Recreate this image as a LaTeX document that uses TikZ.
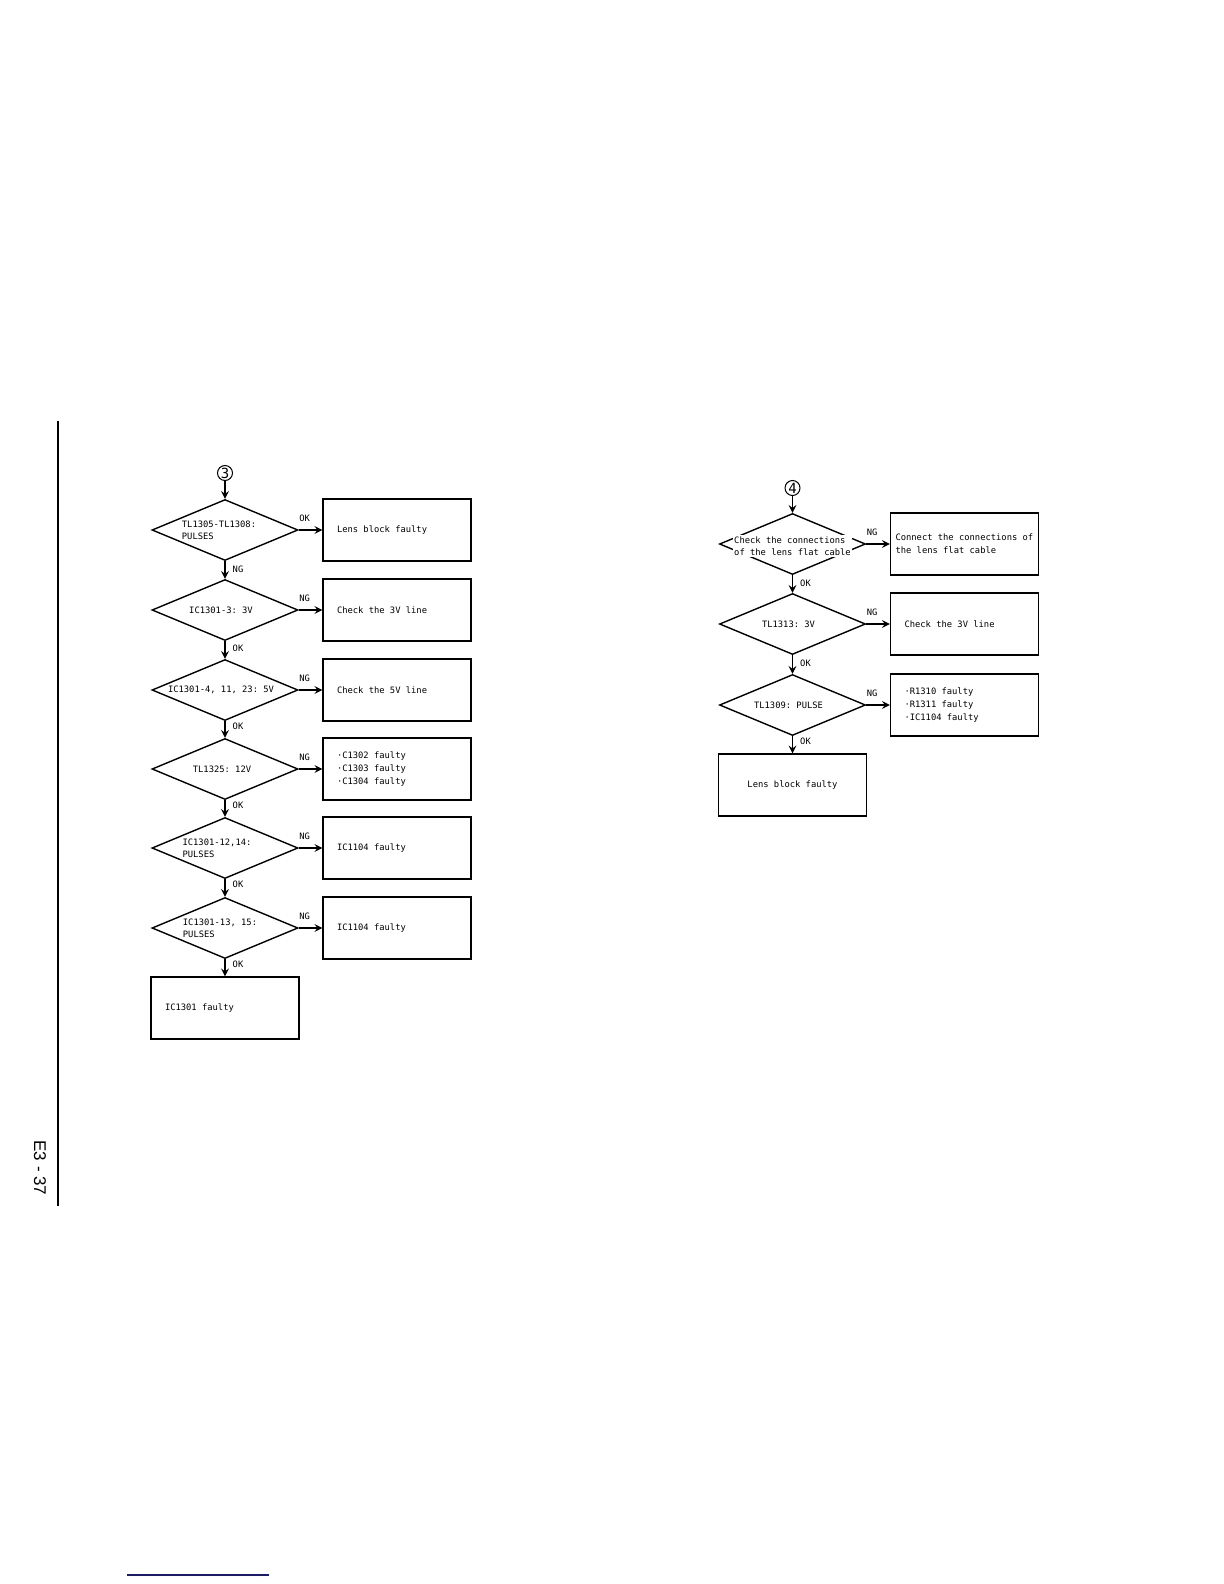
\documentclass[tikz,border=0pt]{standalone}
\usepackage{fontspec}
\usetikzlibrary{shapes.geometric}
\newfontfamily\chartfont{DejaVu Sans Mono}
\newfontfamily\pagefont{Liberation Sans}
\definecolor{linkblue}{RGB}{24,24,120}

\begin{document}
\frenchspacing
\begin{tikzpicture}[>=stealth, line width=0.7pt, x=0.5pt, y=-0.5pt,
    check/.style={diamond, draw, minimum width=73pt, minimum height=30.5pt, inner sep=0pt},
    checktext/.style={font=\chartfont\fontsize{4.4}{6.2}\selectfont, align=left, inner sep=0pt},
    result/.style={draw, minimum width=74pt, minimum height=31pt, text width=60pt,
        inner xsep=7pt, align=flush left, font=\chartfont\fontsize{4.4}{6.5}\selectfont},
    tag/.style={font=\chartfont\fontsize{4.4}{5}\selectfont, inner sep=0pt},
    entry/.style={circle, draw, minimum size=7.5pt, inner sep=0pt, line width=0.5pt,
        font=\chartfont\fontsize{7}{7}\selectfont}]
    \useasboundingbox (0,0) rectangle (1224,1584);

    % Page edge and page number
    \draw (58,421) -- (58,1206);
    \node[rotate=-90, font=\pagefont\fontsize{8.5}{8.5}\selectfont] (page) at (40,1168) {E3 - 37};
    \draw[linkblue, line width=0.8pt] (127,1575) -- (269,1575);

    % Flow 3
    \node[entry] (c3) at (225,473) {3};
    \node[check, label={[checktext, xshift=-3pt]center:{TL1305-TL1308:\\PULSES}}] (q1) at (225,530) {};
    \node[check, label={[checktext, xshift=-2pt]center:{IC1301-3: 3V}}] (q2) at (225,610) {};
    \node[check, label={[checktext, xshift=-2pt]center:{IC1301-4, 11, 23: 5V}}] (q3) at (225,690) {};
    \node[check, label={[checktext, xshift=-1.5pt]center:{TL1325: 12V}}] (q4) at (225,769) {};
    \node[check, label={[checktext, xshift=-4pt]center:{IC1301-12,14:\\PULSES}}] (q5) at (225,848) {};
    \node[check, label={[checktext, xshift=-2.5pt]center:{IC1301-13, 15:\\PULSES}}] (q6) at (225,928) {};

    \node[result] (r1) at (397,530) {Lens block faulty};
    \node[result] (r2) at (397,610) {Check the 3V line};
    \node[result] (r3) at (397,690) {Check the 5V line};
    \node[result] (r4) at (397,769) {·C1302 faulty\\·C1303 faulty\\·C1304 faulty};
    \node[result] (r5) at (397,848) {IC1104 faulty};
    \node[result] (r6) at (397,928) {IC1104 faulty};
    \node[result] (r7) at (225,1008) {IC1301 faulty};

    \draw[->] (c3) -- (q1);
    \draw[->] (q1) -- (q2) node[tag, pos=0, anchor=north west, xshift=3.5pt, yshift=-2pt] {NG};
    \draw[->] (q2) -- (q3) node[tag, pos=0, anchor=north west, xshift=3.5pt, yshift=-1.5pt] {OK};
    \draw[->] (q3) -- (q4) node[tag, pos=0, anchor=north west, xshift=3.5pt, yshift=-0.5pt] {OK};
    \draw[->] (q4) -- (q5) node[tag, pos=0, anchor=north west, xshift=3.5pt, yshift=-0.5pt] {OK};
    \draw[->] (q5) -- (q6) node[tag, pos=0, anchor=north west, xshift=3.5pt, yshift=-0.5pt] {OK};
    \draw[->] (q6) -- (r7) node[tag, pos=0, anchor=north west, xshift=3.5pt, yshift=-0.5pt] {OK};

    \draw[->] (q1) -- (r1) node[tag, pos=0, anchor=south west, yshift=4pt] {OK};
    \draw[->] (q2) -- (r2) node[tag, pos=0, anchor=south west, yshift=4pt] {NG};
    \draw[->] (q3) -- (r3) node[tag, pos=0, anchor=south west, yshift=4pt] {NG};
    \draw[->] (q4) -- (r4) node[tag, pos=0, anchor=south west, yshift=4pt] {NG};
    \draw[->] (q5) -- (r5) node[tag, pos=0, anchor=south west, yshift=4pt] {NG};
    \draw[->] (q6) -- (r6) node[tag, pos=0, anchor=south west, yshift=4pt] {NG};

    % Flow 4
    \node[entry] (c4) at (792.5,488) {4};
    \node[check, label={[checktext, fill=white, inner sep=0.6pt, yshift=-1pt]center:{Check the connections\\of the lens flat cable}}] (p1) at (792.5,544) {};
    \node[check, label={[checktext, xshift=-2pt]center:{TL1313: 3V}}] (p2) at (792.5,624) {};
    \node[check, label={[checktext, xshift=-2pt]center:{TL1309: PULSE}}] (p3) at (792.5,705) {};

    \node[result, text width=69pt, inner xsep=2.5pt] (s1) at (964.5,544) {Connect the connections of\\the lens flat cable};
    \node[result] (s2) at (964.5,624) {Check the 3V line};
    \node[result] (s3) at (964.5,705) {·R1310 faulty\\·R1311 faulty\\·IC1104 faulty};
    \node[result, align=flush center] (s4) at (792.5,785) {Lens block faulty};

    \draw[->] (c4) -- (p1);
    \draw[->] (p1) -- (p2) node[tag, pos=0, anchor=north west, xshift=3.5pt, yshift=-2pt] {OK};
    \draw[->] (p2) -- (p3) node[tag, pos=0, anchor=north west, xshift=3.5pt, yshift=-2pt] {OK};
    \draw[->] (p3) -- (s4) node[tag, pos=0, anchor=north west, xshift=3.5pt, yshift=-0.5pt] {OK};

    \draw[->] (p1) -- (s1) node[tag, pos=0, anchor=south west, yshift=4pt] {NG};
    \draw[->] (p2) -- (s2) node[tag, pos=0, anchor=south west, yshift=4pt] {NG};
    \draw[->] (p3) -- (s3) node[tag, pos=0, anchor=south west, yshift=4pt] {NG};
\end{tikzpicture}
\end{document}
